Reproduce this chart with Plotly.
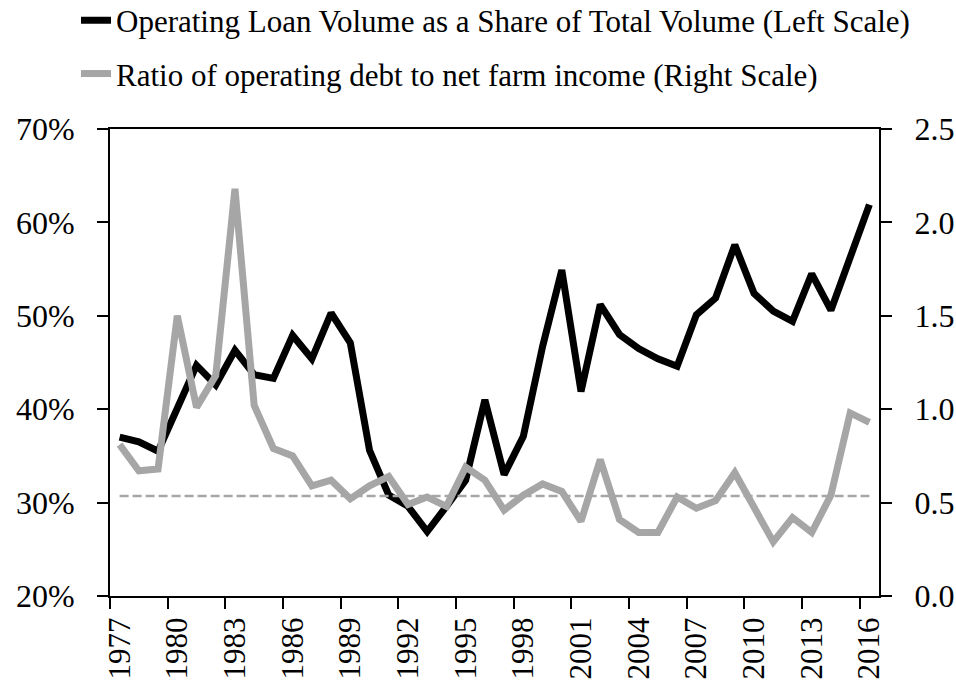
import plotly.graph_objects as go

years = [str(y) for y in range(1977, 2017)]

loan_share = [37.0, 36.5, 35.5, 40.1, 44.7, 42.6, 46.3, 43.7, 43.3, 47.9,
              45.4, 50.3, 47.1, 35.6, 30.8, 29.6, 26.9, 29.6, 32.4, 41.0,
              33.0, 37.1, 46.7, 54.9, 41.9, 51.2, 48.0, 46.5, 45.4, 44.6,
              50.1, 51.9, 57.6, 52.4, 50.5, 49.4, 54.5, 50.6, 56.2, 61.9]

debt_ratio = [0.81, 0.67, 0.68, 1.50, 1.01, 1.18, 2.18, 1.02, 0.79, 0.75,
              0.59, 0.62, 0.52, 0.59, 0.64, 0.49, 0.53, 0.48, 0.69, 0.62,
              0.46, 0.54, 0.60, 0.56, 0.40, 0.73, 0.41, 0.34, 0.34, 0.53,
              0.47, 0.51, 0.66, 0.47, 0.29, 0.42, 0.34, 0.54, 0.98, 0.93]

reference_level = 0.535

left_ticks = [20, 30, 40, 50, 60, 70]
left_labels = ["20%", "30%", "40%", "50%", "60%", "70%"]
right_ticks = [0.0, 0.5, 1.0, 1.5, 2.0, 2.5]
right_labels = ["0.0", "0.5", "1.0", "1.5", "2.0", "2.5"]

name_loan = "Operating Loan Volume as a Share of Total Volume (Left Scale)"
name_ratio = "Ratio of operating debt to net farm income (Right Scale)"

FONT = "Liberation Serif"
GRAY = "#A6A6A6"

fig = go.Figure()
fig.add_trace(go.Scatter(x=years, y=loan_share, mode="lines", name=name_loan,
                         line=dict(color="black", width=7), yaxis="y",
                         legend="legend"))
fig.add_trace(go.Scatter(x=years, y=debt_ratio, mode="lines", name=name_ratio,
                         line=dict(color=GRAY, width=7), yaxis="y2",
                         legend="legend2"))
fig.add_trace(go.Scatter(x=[years[0], years[-1]], y=[reference_level, reference_level],
                         mode="lines", showlegend=False,
                         line=dict(color=GRAY, width=2.5, dash="9px,4px"), yaxis="y2"))

fig.update_layout(
    width=956, height=686,
    margin=dict(l=110, r=77, t=129, b=90, autoexpand=False),
    paper_bgcolor="white", plot_bgcolor="white",
    font=dict(family=FONT, size=32, color="black"),
    showlegend=True,
    xaxis=dict(type="category", tickmode="linear", tick0=0, dtick=3,
               tickson="boundaries", ticks="outside", ticklen=11, tickwidth=2,
               tickcolor="black", showline=True, linecolor="black", linewidth=2,
               mirror=True, showgrid=False, tickangle=-90,
               tickfont=dict(family=FONT, size=31), ticklabelstandoff=7,
               range=[-0.5, 39.5]),
    yaxis=dict(range=[20, 70], tickvals=left_ticks, ticktext=left_labels,
               ticks="outside", ticklen=11, tickwidth=2, tickcolor="black",
               showline=True, linecolor="black", linewidth=2, showgrid=False,
               zeroline=False, tickfont=dict(family=FONT, size=32),
               ticklabelstandoff=16),
    yaxis2=dict(range=[0, 2.5], tickvals=right_ticks, ticktext=right_labels,
                overlaying="y", side="right",
                ticks="outside", ticklen=11, tickwidth=2, tickcolor="black",
                showline=True, linecolor="black", linewidth=2, showgrid=False,
                zeroline=False, tickfont=dict(family=FONT, size=32),
                ticklabelstandoff=16),
    legend=dict(x=-0.0442, y=1.232, xanchor="left", yanchor="middle",
                bgcolor="rgba(0,0,0,0)", font=dict(family=FONT, size=31),
                itemwidth=30),
    legend2=dict(x=-0.0442, y=1.118, xanchor="left", yanchor="middle",
                 bgcolor="rgba(0,0,0,0)", font=dict(family=FONT, size=31),
                 itemwidth=30),
)

fig.write_html("out.html", config={"displayModeBar": False},
               post_script="document.body.style.margin='0px';document.body.style.overflow='hidden';")
